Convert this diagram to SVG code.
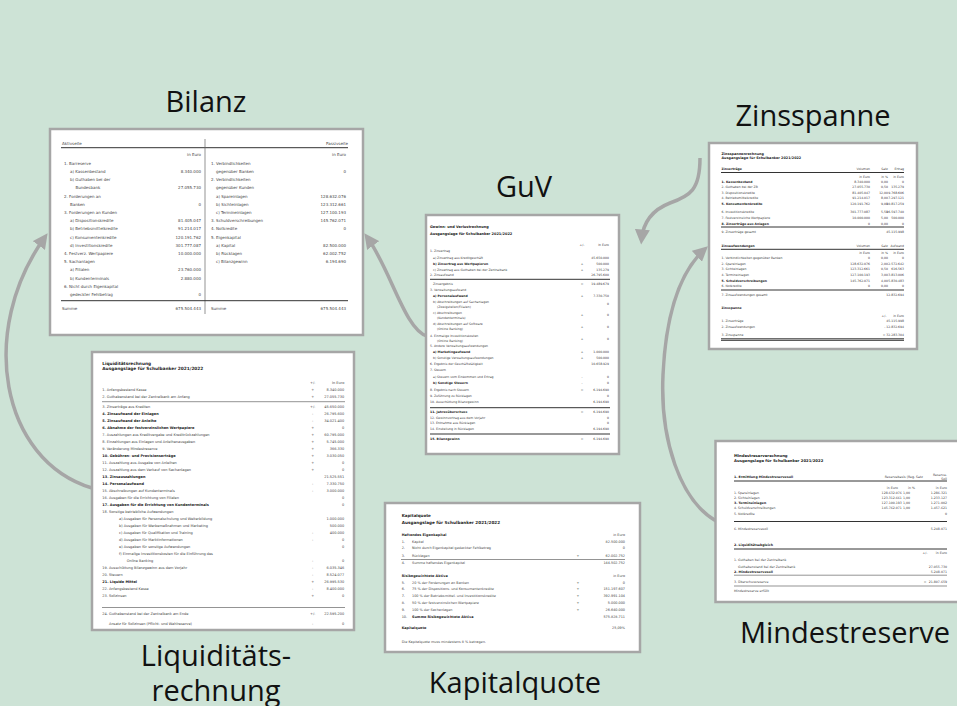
<svg xmlns="http://www.w3.org/2000/svg" width="957" height="706" viewBox="0 0 957 706">
<style>
.doc{fill:#fff;stroke:#a6a6a6;stroke-width:2.5}
.lbl{font-family:"Open Sans","Noto Sans",sans-serif;font-size:29px;fill:#111;text-anchor:middle}
.t{font-family:"DejaVu Sans",sans-serif;fill:#444}
.b{font-weight:bold;fill:#222}
.r{text-anchor:end}
.m{text-anchor:middle}
.ln{stroke:#666;stroke-width:0.7}
.lk{stroke:#333;stroke-width:1}
.conn{fill:none;stroke:#a6a6a6;stroke-width:3.5;marker-end:url(#ah)}
</style>
<defs>
<marker id="ah" viewBox="0 0 10 10" refX="7" refY="5" markerWidth="15" markerHeight="15" markerUnits="userSpaceOnUse" orient="auto">
<path d="M0,0 L10,5 L0,10 z" fill="#a6a6a6"/>
</marker>
</defs>
<rect width="957" height="706" fill="#cde3d6"/>

<g id="connectors">
<path class="conn" d="M92,488 C0,460 -22,330 45,237"/>
<path class="conn" d="M427,336 C405,330 390.6,269.4 367,237"/>
<path class="conn" d="M700,158 C700,190 690,196 670,203 C652,210 643,222 641.5,240"/>
<path class="conn" d="M716,521 C680,500 660,440 663,375 C666,310 682,270 704.6,249.3"/>
</g>

<g id="bilanz">
<text class="lbl" x="206" y="111.7">Bilanz</text>
<rect class="doc" x="50" y="129" width="313" height="206"/>
<g class="t" font-size="4">
<text x="62" y="144.6">Aktivseite</text>
<text class="r" x="348" y="144.6">Passivseite</text>
<line class="lk" x1="61" y1="147.7" x2="348" y2="147.7"/>
<line class="ln" x1="205" y1="139" x2="205" y2="314" stroke-width="1"/>
<text class="r" x="201" y="156.3">in Euro</text>
<text class="r" x="346" y="156.3">in Euro</text>
<text x="64" y="164.7">1. Barreserve</text>
<text x="70" y="172.9">a) Kassenbestand</text><text class="r" x="201" y="172.9">8.340.000</text>
<text x="70" y="181.1">b) Guthaben bei der</text>
<text x="75.5" y="189.3">Bundesbank</text><text class="r" x="201" y="189.3">27.055.730</text>
<text x="64" y="197.5">2. Forderungen an</text>
<text x="70" y="205.7">Banken</text><text class="r" x="201" y="205.7">0</text>
<text x="64" y="213.9">3. Forderungen an Kunden</text>
<text x="70" y="222.1">a) Dispositionskredite</text><text class="r" x="201" y="222.1">81.405.047</text>
<text x="70" y="230.3">b) Betriebsmittelkredite</text><text class="r" x="201" y="230.3">91.214.017</text>
<text x="70" y="238.5">c) Konsumentenkredite</text><text class="r" x="201" y="238.5">120.191.762</text>
<text x="70" y="246.7">d) Investitionskredite</text><text class="r" x="201" y="246.7">301.777.087</text>
<text x="64" y="254.9">4. Festverz. Wertpapiere</text><text class="r" x="201" y="254.9">10.000.000</text>
<text x="64" y="263.1">5. Sachanlagen</text>
<text x="70" y="271.3">a) Filialen</text><text class="r" x="201" y="271.3">23.760.000</text>
<text x="70" y="279.5">b) Kundenterminals</text><text class="r" x="201" y="279.5">2.880.000</text>
<text x="64" y="287.7">6. Nicht durch Eigenkapital</text>
<text x="70" y="295.9">gedeckter Fehlbetrag</text><text class="r" x="201" y="295.9">0</text>
<text x="211" y="164.7">1. Verbindlichkeiten</text>
<text x="216" y="172.9">gegenüber Banken</text><text class="r" x="346" y="172.9">0</text>
<text x="211" y="181.1">2. Verbindlichkeiten</text>
<text x="216" y="189.3">gegenüber Kunden</text>
<text x="216" y="197.5">a) Spareinlagen</text><text class="r" x="346" y="197.5">128.632.076</text>
<text x="216" y="205.7">b) Sichteinlagen</text><text class="r" x="346" y="205.7">123.312.661</text>
<text x="216" y="213.9">c) Termineinlagen</text><text class="r" x="346" y="213.9">127.100.193</text>
<text x="211" y="222.1">3. Schuldverschreibungen</text><text class="r" x="346" y="222.1">145.762.071</text>
<text x="211" y="230.3">4. Notkredite</text><text class="r" x="346" y="230.3">0</text>
<text x="211" y="238.5">5. Eigenkapital</text>
<text x="216" y="246.7">a) Kapital</text><text class="r" x="346" y="246.7">82.500.000</text>
<text x="216" y="254.9">b) Rücklagen</text><text class="r" x="346" y="254.9">62.002.752</text>
<text x="216" y="263.1">c) Bilanzgewinn</text><text class="r" x="346" y="263.1">6.194.690</text>
<line class="lk" x1="61" y1="300.7" x2="348" y2="300.7"/>
<text x="62" y="310.4">Summe</text><text class="r" x="201" y="310.4">675.504.443</text>
<text x="211" y="310.4">Summe</text><text class="r" x="346" y="310.4">675.504.443</text>
</g>
</g>

<g id="guv">
<text class="lbl" x="524" y="197">GuV</text>
<rect class="doc" x="426" y="215" width="193" height="239"/>
<g class="t" font-size="3.1">
<text class="b" x="430" y="227.5" font-size="3.5">Gewinn- und Verlustrechnung</text>
<text class="b" x="430" y="234.5" font-size="3.5">Ausgangslage für Schulbanker 2021/2022</text>
<text class="m" x="582" y="246">+/-</text><text class="r" x="609" y="246">In Euro</text>
<text x="430" y="251.9">1. Zinsertrag</text>
<text x="433" y="258.5">a) Zinsertrag aus Kreditgeschäft</text><text class="r" x="609" y="258.5">45.650.000</text>
<text class="b" x="433" y="264.5">b) Zinsertrag aus Wertpapieren</text><text class="m" x="582" y="264.5">+</text><text class="r" x="609" y="264.5">500.000</text>
<text x="433" y="270.5">c) Zinsertrag aus Guthaben bei der Zentralbank</text><text class="m" x="582" y="270.5">+</text><text class="r" x="609" y="270.5">135.279</text>
<text x="430" y="276.2">2. Zinsaufwand</text><text class="r" x="609" y="276.2">26.795.600</text>
<line class="lk" x1="430" y1="279.3" x2="610" y2="279.3"/>
<text x="433" y="284.5">Zinsergebnis</text><text class="m" x="582" y="284.5">=</text><text class="r" x="609" y="284.5">19.489.679</text>
<text x="430" y="290.5">3. Verwaltungsaufwand</text>
<text class="b" x="433" y="296.5">a) Personalaufwand</text><text class="m" x="582" y="296.5">+</text><text class="r" x="609" y="296.5">7.330.750</text>
<text x="433" y="302.5">b) Abschreibungen auf Sachanlagen</text>
<text x="437" y="307.8">(Zweigstellen/Filialen)</text><text class="r" x="609" y="305">0</text>
<text x="433" y="313.5">c) Abschreibungen</text>
<text x="437" y="318.5">(Kundenterminals)</text><text class="m" x="582" y="316">+</text><text class="r" x="609" y="316">0</text>
<text x="433" y="325">d) Abschreibungen auf Software</text>
<text x="437" y="330">(Online Banking)</text><text class="m" x="582" y="327.5">+</text><text class="r" x="609" y="327.5">0</text>
<text x="430" y="337">4. Einmalige Investitionskosten</text>
<text x="437" y="341.5">(Online Banking)</text><text class="m" x="582" y="339.5">+</text><text class="r" x="609" y="339.5">0</text>
<text x="430" y="346.5">5. Andere Verwaltungsaufwendungen</text>
<text class="b" x="433" y="353">a) Marketingaufwand</text><text class="m" x="582" y="353">+</text><text class="r" x="609" y="353">1.000.000</text>
<text x="433" y="359">b) Sonstige Verwaltungsaufwendungen</text><text class="m" x="582" y="359">+</text><text class="r" x="609" y="359">500.000</text>
<text x="430" y="365">6. Ergebnis der Geschäftstätigkeit</text><text class="r" x="609" y="365">10.658.929</text>
<text x="430" y="371.2">7. Steuern</text>
<text x="433" y="378">a) Steuern vom Einkommen und Ertrag</text><text class="m" x="582" y="378">-</text><text class="r" x="609" y="378">0</text>
<text class="b" x="433" y="384">b) Sonstige Steuern</text><text class="m" x="582" y="384">-</text><text class="r" x="609" y="384">0</text>
<text x="430" y="390.5">8. Ergebnis nach Steuern</text><text class="m" x="582" y="390.5">=</text><text class="r" x="609" y="390.5">6.194.690</text>
<text x="430" y="397">9. Zuführung zu Rücklagen</text><text class="r" x="609" y="397">0</text>
<text x="430" y="403">10. Ausschüttung Bilanzgewinn</text><text class="r" x="609" y="403">6.194.690</text>
<line class="lk" x1="430" y1="407.7" x2="610" y2="407.7"/>
<text class="b" x="430" y="413.2">11. Jahresüberschuss</text><text class="m" x="582" y="413.2">=</text><text class="r" x="609" y="413.2">6.194.690</text>
<text x="430" y="418.5">12. Gewinnvortrag aus dem Vorjahr</text><text class="r" x="609" y="418.5">0</text>
<text x="430" y="424">13. Entnahme aus Rücklagen</text><text class="r" x="609" y="424">0</text>
<text x="430" y="430">14. Einstellung in Rücklagen</text><text class="r" x="609" y="430">6.194.690</text>
<line class="lk" x1="430" y1="434" x2="610" y2="434"/>
<text class="b" x="430" y="440.3">15. Bilanzgewinn</text><text class="m" x="582" y="440.3">=</text><text class="r" x="609" y="440.3">6.194.690</text>
</g>
</g>

<g id="zinsspanne">
<text class="lbl" x="813" y="125.5">Zinsspanne</text>
<rect class="doc" x="709" y="143" width="208" height="206"/>
<g class="t" font-size="3.1">
<text class="b" x="721.5" y="154.5" font-size="3.4">Zinsspannenrechnung</text>
<text class="b" x="721.5" y="158.8" font-size="3.4">Ausgangslage für Schulbanker 2021/2022</text>
<text class="b" x="721.5" y="170">Zinserträge</text><text class="r" x="870" y="170">Volumen</text><text class="r" x="888" y="170">Satz</text><text class="r" x="904" y="170">Ertrag</text>
<line class="lk" x1="721" y1="172.5" x2="904" y2="172.5"/>
<text class="r" x="870" y="177.8">in Euro</text><text class="r" x="888" y="177.8">in %</text><text class="r" x="904" y="177.8">in Euro</text>
<text class="b" x="721.5" y="182.8">1. Kassenbestand</text><text class="r" x="870" y="182.8">8.340.000</text><text class="r" x="888" y="182.8">0,00</text><text class="r" x="904" y="182.8">0</text>
<text x="721.5" y="188">2. Guthaben bei der ZB</text><text class="r" x="870" y="188">27.055.730</text><text class="r" x="888" y="188">0,50</text><text class="r" x="904" y="188">135.279</text>
<text x="721.5" y="193.8">3. Dispositionskredite</text><text class="r" x="870" y="193.8">81.405.047</text><text class="r" x="888" y="193.8">12,00</text><text class="r" x="904" y="193.8">9.768.606</text>
<text x="721.5" y="199.3">4. Betriebsmittelkredite</text><text class="r" x="870" y="199.3">91.214.017</text><text class="r" x="888" y="199.3">8,00</text><text class="r" x="904" y="199.3">7.297.121</text>
<text class="b" x="721.5" y="204.8">5. Konsumentenkredite</text><text class="r" x="870" y="204.8">120.191.762</text><text class="r" x="888" y="204.8">9,00</text><text class="r" x="904" y="204.8">10.817.259</text>
<text x="721.5" y="213.4">6. Investitionskredite</text><text class="r" x="870" y="213.4">301.777.087</text><text class="r" x="888" y="213.4">5,50</text><text class="r" x="904" y="213.4">16.597.740</text>
<text x="721.5" y="218.8">7. Festverzinsliche Wertpapiere</text><text class="r" x="870" y="218.8">10.000.000</text><text class="r" x="888" y="218.8">5,00</text><text class="r" x="904" y="218.8">500.000</text>
<text class="b" x="721.5" y="224.8">8. Zinserträge aus Anlagen</text><text class="r" x="870" y="224.8">0</text><text class="r" x="888" y="224.8">0,00</text><text class="r" x="904" y="224.8">0</text>
<line class="lk" x1="721" y1="227" x2="904" y2="227"/>
<text x="721.5" y="232.8">9. Zinserträge gesamt</text><text class="r" x="904" y="232.8">45.115.998</text>
<text class="b" x="721.5" y="246.8">Zinsaufwendungen</text><text class="r" x="870" y="246.8">Volumen</text><text class="r" x="888" y="246.8">Satz</text><text class="r" x="904" y="246.8">Aufwand</text>
<line class="lk" x1="721" y1="249.3" x2="904" y2="249.3"/>
<text class="r" x="870" y="253.8">in Euro</text><text class="r" x="888" y="253.8">in %</text><text class="r" x="904" y="253.8">in Euro</text>
<text x="721.5" y="259.4">1. Verbindlichkeiten gegenüber Banken</text><text class="r" x="870" y="259.4">0</text><text class="r" x="888" y="259.4">0,00</text><text class="r" x="904" y="259.4">0</text>
<text x="721.5" y="265">2. Spareinlagen</text><text class="r" x="870" y="265">128.632.076</text><text class="r" x="888" y="265">2,00</text><text class="r" x="904" y="265">2.572.642</text>
<text x="721.5" y="270.4">3. Sichteinlagen</text><text class="r" x="870" y="270.4">123.312.661</text><text class="r" x="888" y="270.4">0,50</text><text class="r" x="904" y="270.4">616.563</text>
<text x="721.5" y="276">4. Termineinlagen</text><text class="r" x="870" y="276">127.100.193</text><text class="r" x="888" y="276">3,00</text><text class="r" x="904" y="276">3.813.006</text>
<text class="b" x="721.5" y="281.8">5. Schuldverschreibungen</text><text class="r" x="870" y="281.8">145.762.071</text><text class="r" x="888" y="281.8">4,00</text><text class="r" x="904" y="281.8">5.830.483</text>
<text x="721.5" y="287.4">6. Notkredite</text><text class="r" x="870" y="287.4">0</text><text class="r" x="888" y="287.4">0,00</text><text class="r" x="904" y="287.4">0</text>
<line class="lk" x1="721" y1="290" x2="904" y2="290"/>
<text x="721.5" y="296">7. Zinsaufwendungen gesamt</text><text class="r" x="904" y="296">12.832.694</text>
<text class="b" x="721.5" y="309.4">Zinsspanne</text>
<text class="m" x="884" y="316.8">+/-</text><text class="r" x="904" y="316.8">in Euro</text>
<text x="721.5" y="321.8">1. Zinserträge</text><text class="r" x="904" y="321.8">45.115.998</text>
<text x="721.5" y="327.8">2. Zinsaufwendungen</text><text class="r" x="904" y="327.8">- 12.832.694</text>
<text x="721.5" y="336">3. Zinsspanne</text><text class="r" x="904" y="336">= 32.283.304</text>
<line class="lk" x1="721" y1="338.8" x2="904" y2="338.8"/>
<line class="lk" x1="721" y1="340.3" x2="904" y2="340.3"/>
</g>
</g>

<g id="mindestreserve">
<text class="lbl" x="845" y="643">Mindestreserve</text>
<rect class="doc" x="715.5" y="441" width="260" height="161"/>
<g class="t" font-size="3.2">
<text class="b" x="734" y="456.8" font-size="3.8">Mindestreserverechnung</text>
<text class="b" x="734" y="461.5" font-size="3.8">Ausgangslage für Schulbanker 2021/2022</text>
<text class="b" x="734" y="477.8">1. Ermittlung Mindestreservesoll</text>
<text class="r" x="923" y="477.8">Reservebasis (Reg. Satz</text>
<text class="r" x="947" y="475.5">Reserve-</text><text class="r" x="947" y="479.5">Soll</text>
<line class="lk" x1="734" y1="481" x2="947" y2="481"/>
<text class="r" x="898" y="489.3">in Euro</text><text class="r" x="915" y="489.3">in %</text><text class="r" x="947" y="489.3">in Euro</text>
<text x="734" y="493.5">1. Spareinlagen</text><text class="r" x="910" y="493.5">128.632.076 1,00</text><text class="r" x="947" y="493.5">1.286.321</text>
<text x="734" y="498.8">2. Sichteinlagen</text><text class="r" x="910" y="498.8">123.312.661 1,00</text><text class="r" x="947" y="498.8">1.233.127</text>
<text class="b" x="734" y="504">3. Termineinlagen</text><text class="r" x="910" y="504">127.100.193 1,00</text><text class="r" x="947" y="504">1.271.002</text>
<text x="734" y="509.3">4. Schuldverschreibungen</text><text class="r" x="910" y="509.3">145.762.071 1,00</text><text class="r" x="947" y="509.3">1.457.621</text>
<text x="734" y="514.5">5. Notkredite</text><text class="r" x="947" y="514.5">0</text>
<line class="lk" x1="734" y1="521.5" x2="947" y2="521.5"/>
<text x="734" y="529.5">6. Mindestreservesoll</text><text class="r" x="947" y="529.5">5.248.071</text>
<text class="b" x="734" y="546">2. Liquiditätsabgleich</text>
<line class="lk" x1="734" y1="549" x2="947" y2="549"/>
<text class="m" x="925" y="554.3">+/-</text><text class="r" x="947" y="554.3">in Euro</text>
<text x="734" y="561">1. Guthaben bei der Zentralbank</text>
<text x="738" y="567.7">Guthabenstand bei der Zentralbank</text><text class="r" x="947" y="567.7">27.055.730</text>
<text class="b" x="734" y="572.7">2. Mindestreservesoll</text><text class="r" x="947" y="572.7">5.248.071</text>
<line class="ln" x1="734" y1="575.2" x2="947" y2="575.2"/>
<text x="734" y="582.7">3. Überschussreserve</text><text class="m" x="925" y="582.7">=</text><text class="r" x="947" y="582.7">21.807.659</text>
<line class="ln" x1="734" y1="586" x2="947" y2="586"/>
<text x="734" y="592">Mindestreserve erfüllt</text>
</g>
</g>

<g id="kapitalquote">
<text class="lbl" x="515" y="693">Kapitalquote</text>
<rect class="doc" x="385" y="503" width="255" height="149"/>
<g class="t" font-size="3.4">
<text class="b" x="401.7" y="517.2" font-size="4">Kapitalquote</text>
<text class="b" x="401.7" y="524" font-size="4.2">Ausgangslage für Schulbanker 2021/2022</text>
<text class="b" x="401.7" y="536">Haftendes Eigenkapital</text><text class="r" x="625" y="536">in Euro</text>
<text x="401.7" y="542.8">1.</text><text x="412" y="542.8">Kapital</text><text class="r" x="625" y="542.8">82.500.000</text>
<text x="401.7" y="549.4">2.</text><text x="412" y="549.4">Nicht durch Eigenkapital gedeckter Fehlbetrag</text><text class="r" x="625" y="549.4">0</text>
<text x="401.7" y="556.5">3.</text><text x="412" y="556.5">Rücklagen</text><text class="m" x="578" y="556.5">+</text><text class="r" x="625" y="556.5">62.002.752</text>
<line class="ln" x1="401" y1="559.5" x2="625" y2="559.5"/>
<text x="401.7" y="563.7">4.</text><text x="412" y="563.7">Summe haftendes Eigenkapital</text><text class="r" x="625" y="563.7">144.502.752</text>
<text class="b" x="401.7" y="577">Risikogewichtete Aktiva</text><text class="r" x="625" y="577">in Euro</text>
<text x="401.7" y="583.7">5.</text><text x="412" y="583.7">20 % der Forderungen an Banken</text><text class="m" x="578" y="583.7">+</text><text class="r" x="625" y="583.7">0</text>
<text x="401.7" y="590.3">6.</text><text x="412" y="590.3">75 % der Dispositions- und Konsumentenkredite</text><text class="m" x="578" y="590.3">+</text><text class="r" x="625" y="590.3">151.197.607</text>
<text x="401.7" y="597">7.</text><text x="412" y="597">100 % der Betriebsmittel- und Investitionskredite</text><text class="m" x="578" y="597">+</text><text class="r" x="625" y="597">392.991.104</text>
<text x="401.7" y="603.7">8.</text><text x="412" y="603.7">50 % der festverzinslichen Wertpapiere</text><text class="m" x="578" y="603.7">+</text><text class="r" x="625" y="603.7">5.000.000</text>
<text x="401.7" y="610.5">9.</text><text x="412" y="610.5">100 % der Sachanlagen</text><text class="m" x="578" y="610.5">+</text><text class="r" x="625" y="610.5">26.640.000</text>
<text x="401.7" y="617.5">10.</text><text class="b" x="412" y="617.5">Summe Risikogewichtete Aktiva</text><text class="r" x="625" y="617.5">575.828.711</text>
<text class="b" x="401.7" y="629.3">Kapitalquote</text><text class="r" x="625" y="629.3">25,09%</text>
<text x="401.7" y="642.7">Die Kapitalquote muss mindestens 8 % betragen.</text>
</g>
</g>

<g id="liquiditaet">
<text class="lbl" x="216" y="666" font-size="28">Liquiditäts-</text>
<text class="lbl" x="216" y="701" font-size="28">rechnung</text>
<rect class="doc" x="92" y="352" width="262" height="278"/>
<g class="t" font-size="3.5">
<text class="b" x="102.3" y="364.5" font-size="4.3">Liquiditätsrechnung</text>
<text class="b" x="102.3" y="370.4" font-size="4.3">Ausgangslage für Schulbanker 2021/2022</text>
<text class="m" x="312.7" y="384">+/-</text><text class="r" x="344.3" y="384">In Euro</text>
<text x="102.3" y="390.6">1. Anfangsbestand Kasse</text><text class="m" x="312.7" y="390.6">+</text><text class="r" x="344.3" y="390.6">8.340.000</text>
<text x="102.3" y="398">2. Guthabenstand bei der Zentralbank am Anfang</text><text class="m" x="312.7" y="398">+</text><text class="r" x="344.3" y="398">27.055.730</text>
<line class="ln" x1="102" y1="401.7" x2="345" y2="401.7"/>
<text x="102.3" y="408">3. Zinserträge aus Krediten</text><text class="m" x="312.7" y="408">+/-</text><text class="r" x="344.3" y="408">45.650.000</text>
<text class="b" x="102.3" y="415">4. Zinsaufwand der Einlagen</text><text class="m" x="312.7" y="415">-</text><text class="r" x="344.3" y="415">26.795.600</text>
<text class="b" x="102.3" y="422">5. Zinsaufwand der Anleihe</text><text class="m" x="312.7" y="422">-</text><text class="r" x="344.3" y="422">34.021.400</text>
<text class="b" x="102.3" y="429">6. Abnahme der festverzinslichen Wertpapiere</text><text class="m" x="312.7" y="429">+</text><text class="r" x="344.3" y="429">0</text>
<text x="102.3" y="436">7. Auszahlungen aus Kreditvergabe und Kreditrückzahlungen</text><text class="m" x="312.7" y="436">+</text><text class="r" x="344.3" y="436">60.795.000</text>
<text x="102.3" y="443">8. Einzahlungen aus Einlagen und Anleihenausgaben</text><text class="m" x="312.7" y="443">+</text><text class="r" x="344.3" y="443">5.745.000</text>
<text x="102.3" y="450">9. Veränderung Mindestreserve</text><text class="m" x="312.7" y="450">+</text><text class="r" x="344.3" y="450">366.330</text>
<text class="b" x="102.3" y="457">10. Gebühren- und Provisionserträge</text><text class="m" x="312.7" y="457">+</text><text class="r" x="344.3" y="457">3.030.050</text>
<text x="102.3" y="464">11. Auszahlung aus Ausgabe von Anleihen</text><text class="m" x="312.7" y="464">+</text><text class="r" x="344.3" y="464">0</text>
<text x="102.3" y="471">12. Auszahlung aus dem Verkauf von Sachanlagen</text><text class="m" x="312.7" y="471">+</text><text class="r" x="344.3" y="471">0</text>
<text class="b" x="102.3" y="478">13. Zinsauszahlungen</text><text class="r" x="344.3" y="478">21.525.551</text>
<text class="b" x="102.3" y="485">14. Personalaufwand</text><text class="m" x="312.7" y="485">-</text><text class="r" x="344.3" y="485">7.330.750</text>
<text x="102.3" y="492">15. Abschreibungen auf Kundenterminals</text><text class="m" x="312.7" y="492">-</text><text class="r" x="344.3" y="492">3.000.000</text>
<text x="102.3" y="499">16. Ausgaben für die Errichtung von Filialen</text><text class="r" x="344.3" y="499">0</text>
<text class="b" x="102.3" y="506">17. Ausgaben für die Errichtung von Kundenterminals</text><text class="r" x="344.3" y="506">0</text>
<text x="102.3" y="513">18. Sonstige betriebliche Aufwendungen</text>
<text x="119" y="520">a) Ausgaben für Personalschulung und Weiterbildung</text><text class="r" x="344.3" y="520">1.000.000</text>
<text x="119" y="527">b) Ausgaben für Werbemaßnahmen und Marketing</text><text class="r" x="344.3" y="527">500.000</text>
<text x="119" y="534">c) Ausgaben für Qualifikation und Training</text><text class="m" x="312.7" y="534">-</text><text class="r" x="344.3" y="534">400.000</text>
<text x="119" y="541">d) Ausgaben für Marktinformationen</text><text class="m" x="312.7" y="541">-</text><text class="r" x="344.3" y="541">0</text>
<text x="119" y="548">e) Ausgaben für sonstige Aufwendungen</text><text class="r" x="344.3" y="548">0</text>
<text x="119" y="555">f) Einmalige Investitionskosten für die Einführung des</text>
<text x="126.7" y="562">Online Banking</text><text class="m" x="312.7" y="562">-</text><text class="r" x="344.3" y="562">0</text>
<text x="102.3" y="569">19. Ausschüttung Bilanzgewinn aus dem Vorjahr</text><text class="m" x="312.7" y="569">-</text><text class="r" x="344.3" y="569">6.035.346</text>
<text x="102.3" y="576">20. Steuern</text><text class="m" x="312.7" y="576">-</text><text class="r" x="344.3" y="576">8.524.077</text>
<text class="b" x="102.3" y="583">21. Liquide Mittel</text><text class="m" x="312.7" y="583">+</text><text class="r" x="344.3" y="583">26.995.530</text>
<text x="102.3" y="590">22. Anfangsbestand Kasse</text><text class="m" x="312.7" y="590">-</text><text class="r" x="344.3" y="590">8.400.000</text>
<text x="102.3" y="597">23. Sollzinsen</text><text class="m" x="312.7" y="597">+</text><text class="r" x="344.3" y="597">0</text>
<line class="ln" x1="102" y1="607.5" x2="345" y2="607.5"/>
<text x="102.3" y="614.6">24. Guthabenstand bei der Zentralbank am Ende</text><text class="m" x="312.7" y="614.6">+/-</text><text class="r" x="344.3" y="614.6">22.595.200</text>
<text x="109" y="624.6">Ansatz für Sollzinsen (Pflicht- und Wahlreserve)</text><text class="m" x="312.7" y="624.6">-</text><text class="r" x="344.3" y="624.6">0</text>
</g>
</g>
</svg>
